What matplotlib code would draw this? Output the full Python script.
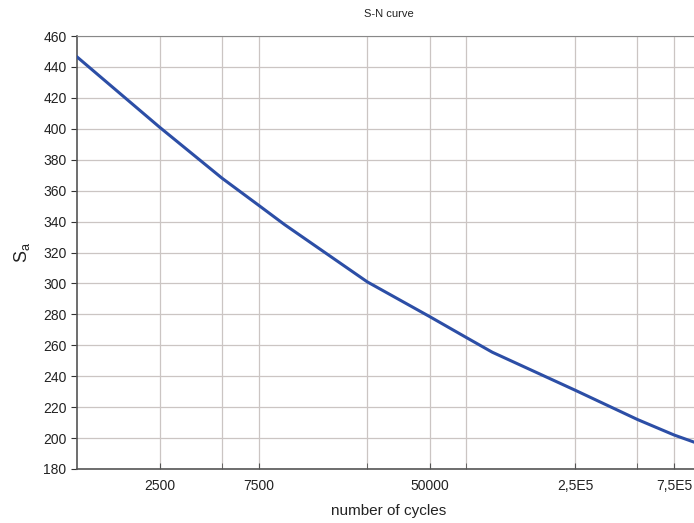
import matplotlib.pyplot as plt
from matplotlib.ticker import FixedLocator, NullFormatter

plt.rcParams['font.family'] = ['Liberation Sans', 'DejaVu Sans']

# curve
cycles = [1000, 2500, 5000, 7500, 10000, 25000, 50000, 75000,
          100000, 250000, 500000, 750000, 1000000]
stress = [446.5, 401, 368, 350.5, 338, 301, 278.5, 265,
          255.5, 231, 212, 202, 196]

major_x = [2500, 7500, 50000, 250000, 750000]
major_labels = ['2500', '7500', '50000', '2,5E5', '7,5E5']
minor_x = [5000, 25000, 75000, 500000]
y_ticks = list(range(180, 461, 20))

fig = plt.figure(figsize=(6.94, 5.23), dpi=100)
ax = fig.add_axes([77/694, 1 - 469/523, 623/694, 433/523])

grid_col = '#cbc5c3'
ax.plot(cycles, stress, color='#2c4ea6', linewidth=2.2, zorder=3)

ax.set_xscale('log')
ax.set_xlim(1000, 1000000)
ax.set_ylim(180, 460)

ax.xaxis.set_major_locator(FixedLocator(major_x))
ax.set_xticklabels(major_labels)
ax.xaxis.set_minor_locator(FixedLocator(minor_x))
ax.xaxis.set_minor_formatter(NullFormatter())
ax.set_yticks(y_ticks)

ax.grid(True, which='both', color=grid_col, linewidth=0.9)
ax.set_axisbelow(True)

for side in ['left', 'bottom']:
    ax.spines[side].set_color('#555555')
    ax.spines[side].set_linewidth(1.2)
ax.spines['top'].set_color('#888888')
ax.spines['right'].set_visible(False)

ax.tick_params(axis='y', direction='out', length=4, labelsize=10,
               colors='#333333', labelcolor='#222222')
ax.tick_params(axis='x', which='both', direction='in', length=4,
               labelsize=10, colors='#555555', labelcolor='#222222', pad=7)

ax.set_title('S-N curve', fontsize=8, color='#222222', pad=14)
ax.set_xlabel('number of cycles', fontsize=11, color='#222222', labelpad=8)
ax.set_ylabel('$\\mathregular{S_a}$', fontsize=13, color='#222222', labelpad=8)

plt.savefig('out.png', dpi=100)
